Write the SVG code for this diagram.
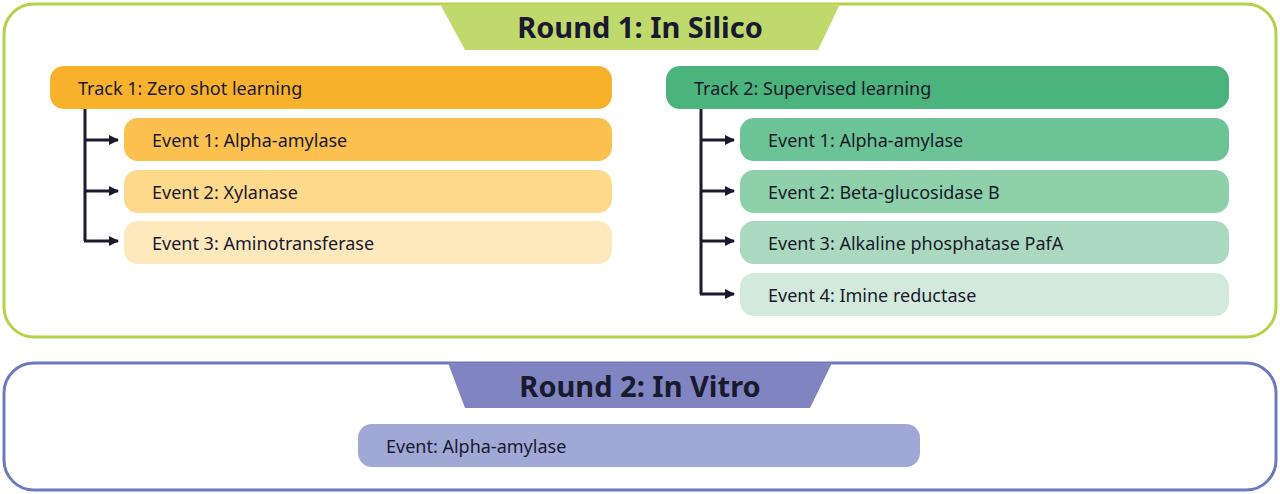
<svg xmlns="http://www.w3.org/2000/svg" width="1280" height="494" viewBox="0 0 1280 494">
<defs>
<style>
text{font-family:"Noto Sans","Liberation Sans",sans-serif;fill:#1a1a2e}
.l{font-size:18px}
.t{font-size:29px;font-weight:bold}
.c{stroke:#1a1a2e;stroke-width:3;fill:none}
</style>
<marker id="a" markerWidth="10" markerHeight="10" refX="9" refY="5" orient="auto" markerUnits="userSpaceOnUse"><path d="M0,0 L10,5 L0,10 z" fill="#1a1a2e"/></marker>
</defs>
<rect width="1280" height="494" fill="#fff"/>
<g id="round1">
<rect x="4" y="4" width="1272" height="333" rx="30" fill="#fff" stroke="#b5d34a" stroke-width="3"/>
<path d="M440,4 L840,4 L818,50 L465,50 Z" fill="#bfd96c"/>
<text class="t" x="640" y="38" text-anchor="middle">Round 1: In Silico</text>
</g>
<g id="track1"><rect x="50" y="66" width="562" height="43" rx="14" fill="#f8b12a"/><text class="l" x="78" y="95">Track 1: Zero shot learning</text></g>
<g id="t1e1"><rect x="124" y="118" width="488" height="43" rx="14" fill="#fbc04e"/><text class="l" x="152" y="147">Event 1: Alpha-amylase</text></g>
<g id="t1e2"><rect x="124" y="170" width="488" height="43" rx="14" fill="#fdd98c"/><text class="l" x="152" y="199">Event 2: Xylanase</text></g>
<g id="t1e3"><rect x="124" y="221" width="488" height="43" rx="14" fill="#fee9bd"/><text class="l" x="152" y="250">Event 3: Aminotransferase</text></g>
<g id="track2"><rect x="666" y="66" width="563" height="43" rx="14" fill="#4bb37c"/><text class="l" x="694" y="95">Track 2: Supervised learning</text></g>
<g id="t2e1"><rect x="740" y="118" width="489" height="43" rx="14" fill="#6cc395"/><text class="l" x="768" y="147">Event 1: Alpha-amylase</text></g>
<g id="t2e2"><rect x="740" y="170" width="489" height="43" rx="14" fill="#8dd0a9"/><text class="l" x="768" y="199">Event 2: Beta-glucosidase B</text></g>
<g id="t2e3"><rect x="740" y="221" width="489" height="43" rx="14" fill="#aad9bf"/><text class="l" x="768" y="250">Event 3: Alkaline phosphatase PafA</text></g>
<g id="t2e4"><rect x="740" y="273" width="489" height="43" rx="14" fill="#d1eadb"/><text class="l" x="768" y="302">Event 4: Imine reductase</text></g>
<g id="round2">
<rect x="4" y="363" width="1272" height="127" rx="30" fill="#fff" stroke="#7078bc" stroke-width="3"/>
<path d="M448,363 L832,363 L810,408 L465,408 Z" fill="#8085c1"/>
<text class="t" x="640" y="397" text-anchor="middle">Round 2: In Vitro</text>
</g>
<g id="r2e"><rect x="358" y="424" width="562" height="43" rx="14" fill="#a0a8d6"/><text class="l" x="386" y="453">Event: Alpha-amylase</text></g>
<g id="connectors">
<path class="c" d="M85,109 V241"/>
<path class="c" d="M84,140 H118" marker-end="url(#a)"/>
<path class="c" d="M84,191 H118" marker-end="url(#a)"/>
<path class="c" d="M84,241 H118" marker-end="url(#a)"/>
<path class="c" d="M701,109 V294"/>
<path class="c" d="M700,140 H734" marker-end="url(#a)"/>
<path class="c" d="M700,191 H734" marker-end="url(#a)"/>
<path class="c" d="M700,241 H734" marker-end="url(#a)"/>
<path class="c" d="M700,294 H734" marker-end="url(#a)"/>
</g>
</svg>
